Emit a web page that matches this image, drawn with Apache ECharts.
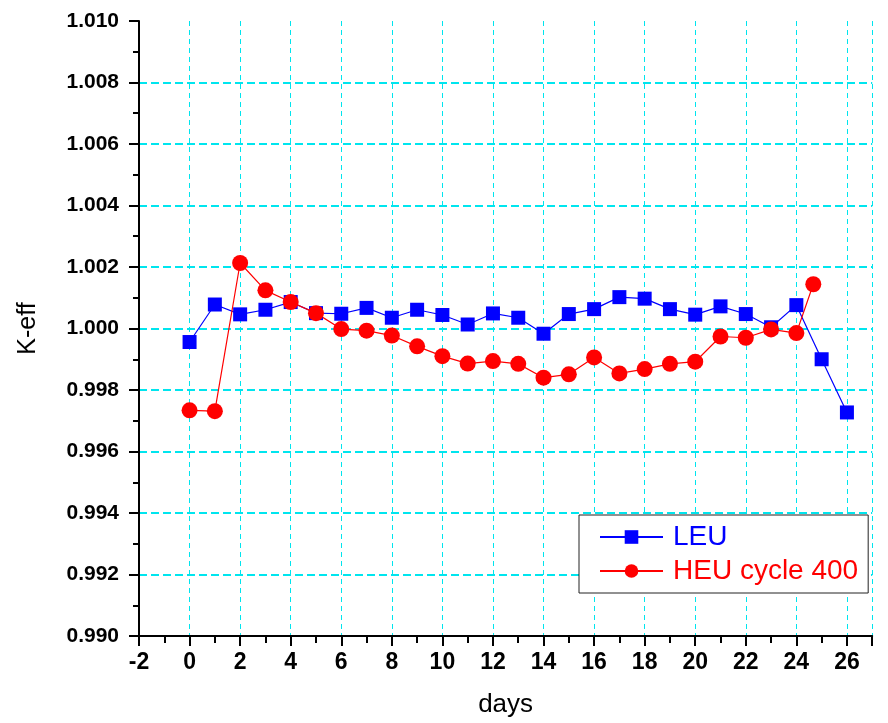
<!DOCTYPE html>
<html>
<head>
<meta charset="utf-8">
<script src="https://cdn.jsdelivr.net/npm/echarts@6/dist/echarts.min.js"></script>
<style>
html,body{margin:0;padding:0;background:#fff;}
#chart{width:888px;height:723px;}
</style>
</head>
<body>
<div id="chart"></div>
<script>
// Data
const leuDays = [0,1,2,3,4,5,6,7,8,9,10,11,12,13,14,15,16,17,18,19,20,21,22,23,24,25,26];
const leuKeff = [0.99956,1.00078,1.00046,1.00061,1.00086,1.00050,1.00048,1.00067,1.00035,1.00061,1.00044,1.00013,1.00049,1.00035,0.99983,1.00047,1.00063,1.00102,1.00097,1.00063,1.00045,1.00072,1.00047,1.00004,1.00076,0.99900,0.99727];
const heuDays = [0,1,2,3,4,5,6,7,8,9,10,11,12,13,14,15,16,17,18,19,20,21,22,23,24,24.67];
const heuKeff = [0.99734,0.99731,1.00213,1.00124,1.00086,1.00050,0.99998,0.99993,0.99977,0.99942,0.99910,0.99886,0.99894,0.99885,0.99840,0.99851,0.99906,0.99854,0.99868,0.99885,0.99892,0.99974,0.99970,0.99997,0.99985,1.00144];
const seriesNames = ['LEU','HEU cycle 400'];
const xName = 'days';
const yName = 'K-eff';

const font = 'Liberation Sans, Arial, sans-serif';
const chart = echarts.init(document.getElementById('chart'), null, {renderer:'canvas'});
const pair = (xs, ys) => xs.map((x,i)=>[x, ys[i]]);

chart.setOption({
  animation:false,
  backgroundColor:'#fff',
  grid:{left:139, top:21, bottom:87, right:-8, containLabel:false},
  legend:{
    orient:'vertical', left:579, top:515,
    backgroundColor:'#fff', borderColor:'#222', borderWidth:1,
    padding:[8,10,8,20], itemGap:6, itemWidth:63, itemHeight:17,
    textStyle:{fontFamily:font, fontSize:28, padding:[0,0,0,5]},
    data:[
      {name:seriesNames[0], textStyle:{color:'#0000ff'}},
      {name:seriesNames[1], textStyle:{color:'#ff0000'}}
    ]
  },
  xAxis:{
    type:'value', min:-2, max:27, interval:2,
    name:xName, nameLocation:'middle', nameGap:56,
    nameTextStyle:{fontFamily:font, fontSize:26, color:'#000'},
    axisLine:{show:true, onZero:false, lineStyle:{color:'#000', width:2}},
    axisTick:{show:true, length:10, lineStyle:{color:'#000', width:2}},
    minorTick:{show:true, splitNumber:2, length:7, lineStyle:{color:'#000', width:2}},
    axisLabel:{fontFamily:font, fontSize:23, fontWeight:'bold', color:'#000', margin:15},
    splitLine:{show:true, showMinLine:false, lineStyle:{color:'#00e5ee', width:1, type:[5,4]}}
  },
  yAxis:{
    type:'value', min:0.990, max:1.010, interval:0.002,
    name:yName, nameLocation:'middle', nameGap:98,
    nameTextStyle:{fontFamily:font, fontSize:25, color:'#000'},
    axisLine:{show:true, onZero:false, lineStyle:{color:'#000', width:2}},
    axisTick:{show:true, length:10, lineStyle:{color:'#000', width:2}},
    minorTick:{show:true, splitNumber:2, length:6, lineStyle:{color:'#000', width:2}},
    axisLabel:{fontFamily:font, fontSize:21, fontWeight:'bold', color:'#000', margin:20,
      formatter:v=>v.toFixed(3)},
    splitLine:{show:true, showMinLine:false, showMaxLine:false, lineStyle:{color:'#00e5ee', width:2, type:[8,4]}}
  },
  series:[
    {name:seriesNames[0], type:'line', data:pair(leuDays, leuKeff),
     symbol:'rect', symbolSize:14, color:'#0000ff',
     lineStyle:{color:'#0000ff', width:1.2}, itemStyle:{color:'#0000ff'}},
    {name:seriesNames[1], type:'line', data:pair(heuDays, heuKeff),
     symbol:'circle', symbolSize:16, color:'#ff0000',
     lineStyle:{color:'#ff0000', width:1.2}, itemStyle:{color:'#ff0000'}}
  ]
});
</script>
</body>
</html>
